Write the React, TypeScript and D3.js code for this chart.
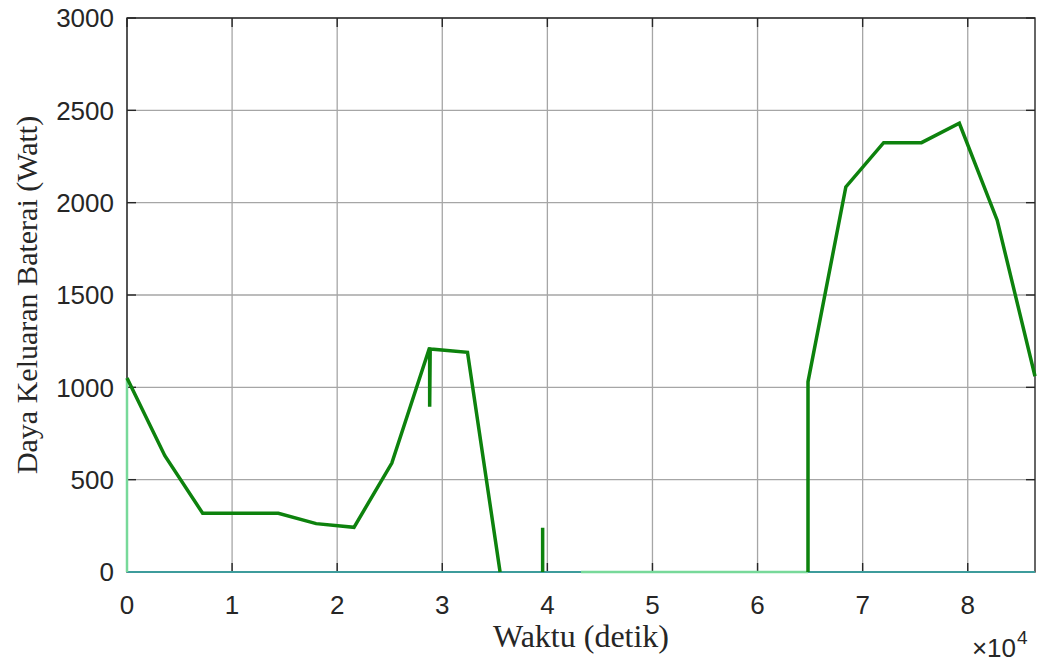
import React from 'react';
import * as d3 from 'd3';

// main output power series (NaN = gap)
const mainTime = [0, 3600, 7200, 14400, 18000, 21600, 25200, 28750, 28800, 28800, 28850, 32400, 35500, NaN, 39550, 39550, NaN, 64800, 64800, 68400, 72000, 75600, 79200, 82800, 86400];
const mainPower = [1050, 630, 318, 318, 262, 242, 590, 1208, 1208, 895, 1208, 1190, 0, NaN, 0, 240, NaN, 0, 1030, 2085, 2325, 2325, 2430, 1905, 1060];

// light green series
const lightTime = [0, 0, NaN, 43200, 64800];
const lightPower = [0, 1050, NaN, 0, 0];

// teal baseline series
const tealTime = [0, 86400];
const tealPower = [0, 0];

const xTicks = [0, 1, 2, 3, 4, 5, 6, 7, 8];
const yTicks = [0, 500, 1000, 1500, 2000, 2500, 3000];

const W = 1037;
const H = 664;
const left = 127, right = 1035, top = 18, bottom = 572;

export default function App() {
  const x = d3.scaleLinear().domain([0, 86400]).range([left, right]);
  const y = d3.scaleLinear().domain([0, 3000]).range([bottom, top]);

  const mkLine = (t: number[], v: number[]) =>
    d3.line<number>()
      .defined(i => !isNaN(t[i]) && !isNaN(v[i]))
      .x(i => x(t[i]))
      .y(i => y(v[i]))(t.map((_, i) => i)) || '';

  const tickLen = 9;
  const axisColor = '#262626';
  const gridColor = '#a6a6a6';
  const tickFont = 'Liberation Sans, Arial, sans-serif';
  const labelFont = 'Liberation Serif, Times New Roman, serif';

  return (
    <svg width={W} height={H} style={{ position: 'absolute', left: 0, top: 0, background: '#fff' }}>
      <rect x={0} y={0} width={W} height={H} fill="#fff" />
      {/* grid */}
      {xTicks.map(t => (
        <line key={'gx' + t} x1={x(t * 1e4)} x2={x(t * 1e4)} y1={top} y2={bottom} stroke={gridColor} strokeWidth={1.3} />
      ))}
      {yTicks.map(t => (
        <line key={'gy' + t} x1={left} x2={right} y1={y(t)} y2={y(t)} stroke={gridColor} strokeWidth={1.3} />
      ))}
      {/* box */}
      <rect x={left} y={top} width={right - left} height={bottom - top} fill="none" stroke={axisColor} strokeWidth={1.4} />
      {/* ticks */}
      {xTicks.map(t => (
        <g key={'tx' + t}>
          <line x1={x(t * 1e4)} x2={x(t * 1e4)} y1={bottom} y2={bottom - tickLen} stroke={axisColor} strokeWidth={1.4} />
          <line x1={x(t * 1e4)} x2={x(t * 1e4)} y1={top} y2={top + tickLen} stroke={axisColor} strokeWidth={1.4} />
          <text x={x(t * 1e4)} y={614} textAnchor="middle" fontFamily={tickFont} fontSize={26} fill={axisColor}>{t}</text>
        </g>
      ))}
      {yTicks.map(t => (
        <g key={'ty' + t}>
          <line x1={left} x2={left + tickLen} y1={y(t)} y2={y(t)} stroke={axisColor} strokeWidth={1.4} />
          <line x1={right} x2={right - tickLen} y1={y(t)} y2={y(t)} stroke={axisColor} strokeWidth={1.4} />
          <text x={114} y={y(t)} dy="0.36em" textAnchor="end" fontFamily={tickFont} fontSize={26} fill={axisColor}>{t}</text>
        </g>
      ))}
      {/* exponent */}
      <text x={1016} y={657} textAnchor="end" fontFamily={tickFont} fontSize={26} fill={axisColor}>×10</text>
      <text x={1017} y={644} fontFamily={tickFont} fontSize={19} fill={axisColor}>4</text>
      {/* series */}
      <path d={mkLine(tealTime, tealPower)} fill="none" stroke="#3d9c9c" strokeWidth={2} />
      <path d={mkLine(lightTime, lightPower)} fill="none" stroke="#77d99a" strokeWidth={2.5} />
      <path d={mkLine(mainTime, mainPower)} fill="none" stroke="#0d820d" strokeWidth={3.5} strokeLinejoin="miter" />
      {/* labels */}
      <text x={(left + right) / 2} y={647} textAnchor="middle" fontFamily={labelFont} fontSize={32} fill={axisColor}>Waktu (detik)</text>
      <text transform={`translate(37, ${(top + bottom) / 2}) rotate(-90)`} textAnchor="middle" fontFamily={labelFont} fontSize={30} fill={axisColor}>Daya Keluaran Baterai (Watt)</text>
    </svg>
  );
}
